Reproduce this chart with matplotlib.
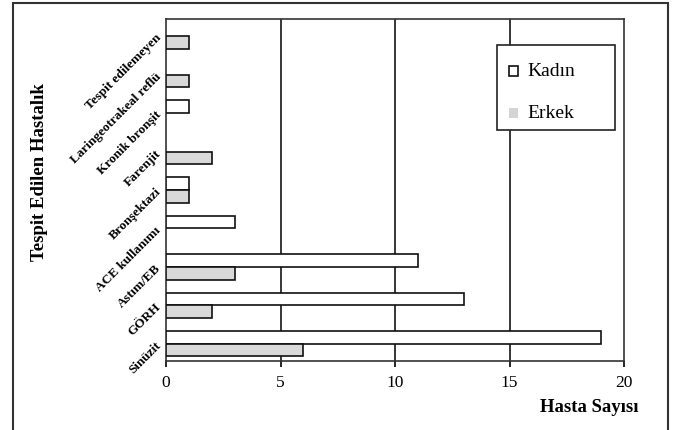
import matplotlib.pyplot as plt
import numpy as np
from matplotlib.patches import Rectangle

# data, bottom to top
diseases = ["Sinüzit", "GÖRH", "Astım/EB", "ACE kullanımı", "Bronşektazi",
            "Farenjit", "Kronik bronşit", "Laringeotrakeal reflü", "Tespit edilemeyen"]
kadin = [19, 13, 11, 3, 1, 0, 1, 0, 0]
erkek = [6, 2, 3, 0, 1, 2, 0, 1, 1]
xticks = [0, 5, 10, 15, 20]

plt.rcParams['font.family'] = ['Liberation Serif', 'DejaVu Serif']

fig = plt.figure(figsize=(6.85, 4.3), dpi=100)
ax = fig.add_axes([166/685, 1-361/430, (624-166)/685, (361-19)/430])

y = np.arange(len(diseases))
h = 0.33
edge = '#111111'
k = [v if v > 0 else np.nan for v in kadin]
e = [v if v > 0 else np.nan for v in erkek]
ax.barh(y + h/2, k, height=h, color='white', edgecolor=edge, lw=1.2, zorder=3)
ax.barh(y - h/2, e, height=h, color='#d9d9d9', edgecolor=edge, lw=1.2, zorder=3)

ax.set_xlim(0, 20)
ax.set_ylim(-0.45, len(diseases) - 0.55)
ax.set_xticks(xticks)
ax.set_xticklabels([str(t) for t in xticks], fontsize=12.5)
ax.set_yticks(y)
ax.set_yticklabels(diseases, rotation=45, ha='right', va='center',
                   rotation_mode='anchor', fontsize=9.5, fontweight='bold')
ax.tick_params(axis='y', length=0, pad=5)
ax.tick_params(axis='x', length=4, direction='out', width=1.2, pad=6)
for x in [5, 10, 15]:
    ax.axvline(x, color='black', lw=1.1, zorder=1)
for s in ax.spines.values():
    s.set_color('#333333')
    s.set_linewidth(1.2)

fig.text(40/685, 1-172/430, 'Tespit Edilen Hastalık', rotation=90, ha='center',
         va='center', fontsize=13.5, fontweight='bold')
fig.text(638/685, 1-408/430, 'Hasta Sayısı', ha='right', va='center',
         fontsize=13.5, fontweight='bold')

# legend box
tf = fig.transFigure
fig.add_artist(Rectangle((497/685, 1-130/430), (615-497)/685, (130-45)/430,
                         transform=tf, facecolor='white', edgecolor='#222222',
                         lw=1.2, zorder=5))
fig.add_artist(Rectangle((509/685, 1-76/430), 9/685, 10/430, transform=tf,
                         facecolor='white', edgecolor='#111111', lw=1.2, zorder=6))
fig.add_artist(Rectangle((509/685, 1-118/430), 9/685, 10/430, transform=tf,
                         facecolor='#d4d4d4', edgecolor='none', zorder=6))
fig.text(527/685, 1-71/430, 'Kadın', fontsize=14, va='center', ha='left', zorder=6)
fig.text(527/685, 1-113/430, 'Erkek', fontsize=14, va='center', ha='left', zorder=6)

# outer frame
fig.add_artist(Rectangle((13/685, -0.05), (668-13)/685, 1.05 - 3/430,
                         transform=tf, fill=False, edgecolor='#333333', lw=1.5))

fig.savefig('out.png', dpi=100)
